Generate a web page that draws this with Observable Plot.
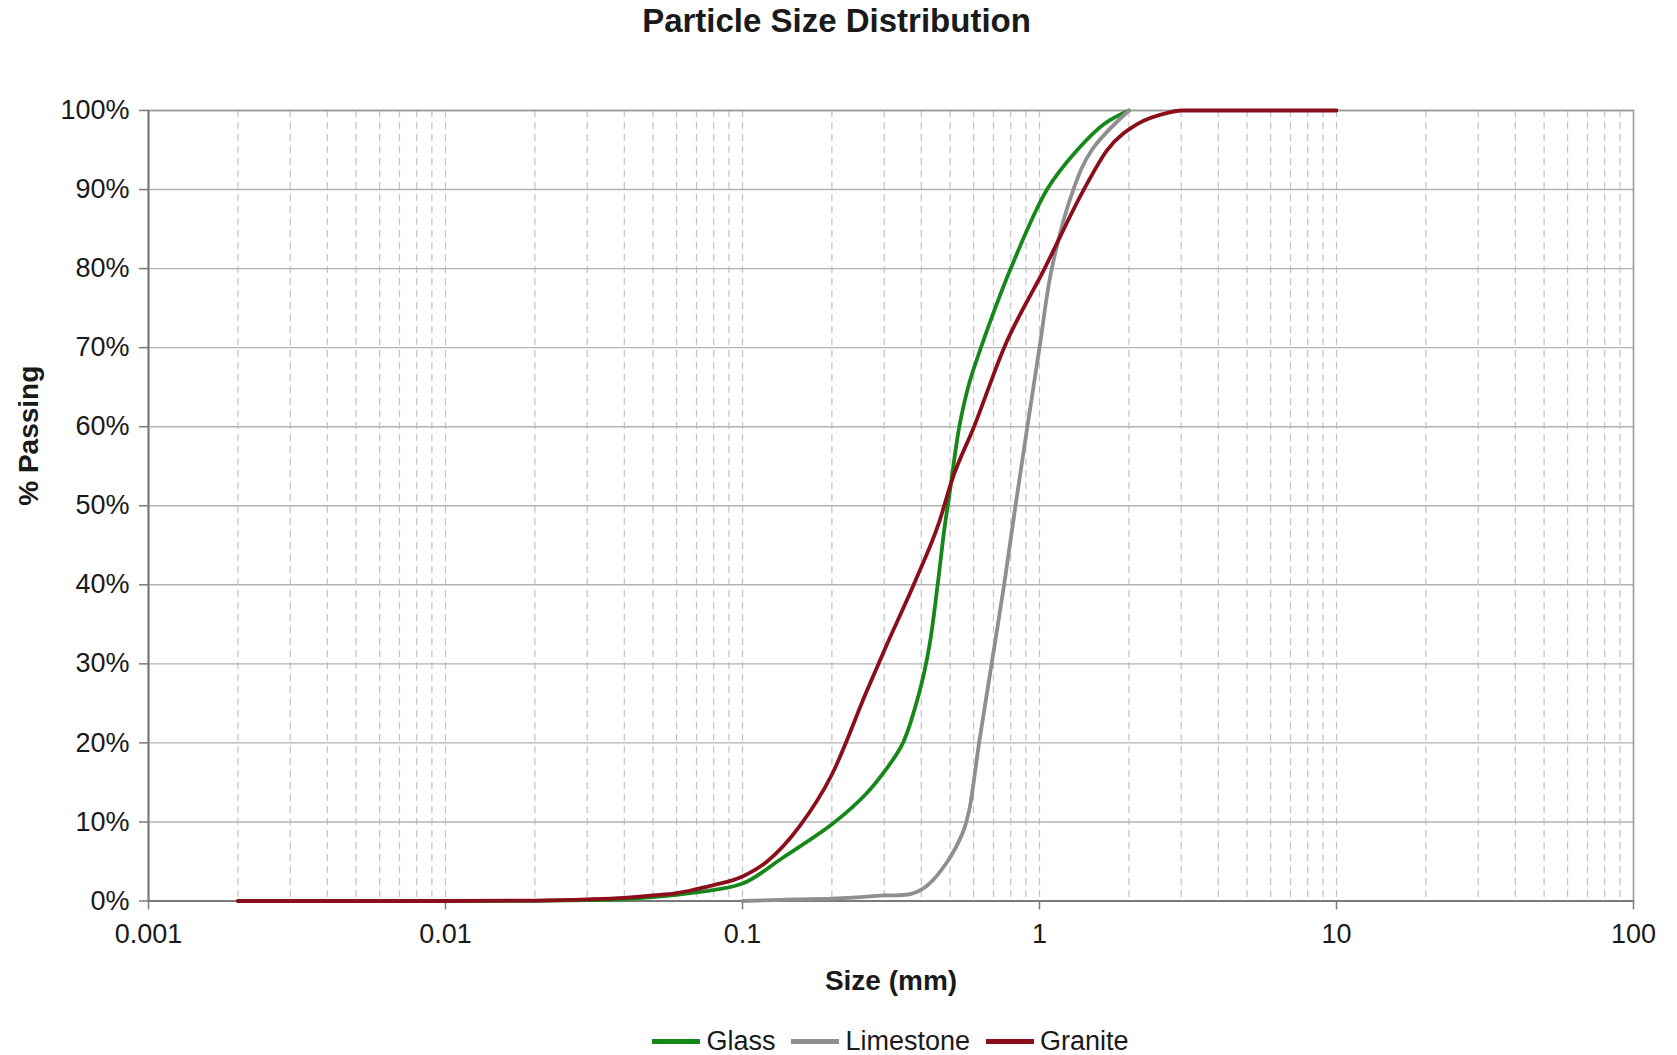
<!DOCTYPE html>
<html>
<head>
<meta charset="utf-8">
<script src="https://cdn.jsdelivr.net/npm/d3@7"></script>
<script src="https://cdn.jsdelivr.net/npm/@observablehq/plot@0.6"></script>
<style>
  html, body { margin: 0; padding: 0; background: #fff; overflow: hidden; }
  body { width: 1677px; height: 1055px; font-family: "Liberation Sans", Arial, sans-serif; color: #1a1a1a; }
  #title { height: 50px; line-height: 42px; text-align: center; font-size: 33px; font-weight: bold; padding-right: 4px; }
  #legend { height: 62px; display: flex; align-items: center; justify-content: center; padding-left: 148px; padding-right: 44px; font-size: 27px; }
  .item { display: flex; align-items: center; margin: 0 8px; }
  .sw { width: 48px; height: 5px; margin-right: 6px; }
  svg { display: block; }
</style>
</head>
<body>
<div id="title">Particle Size Distribution</div>
<div id="chart"></div>
<div id="legend"></div>
<script>
// ---- data (size in mm, % passing) ----
const seriesNames = ["Glass", "Limestone", "Granite"];
const seriesColors = ["#16881a", "#8f8f8f", "#8a0f1a"];

const glassSize = [0.002, 0.01, 0.02, 0.03, 0.04, 0.05, 0.07, 0.1, 0.137, 0.2, 0.26, 0.305, 0.347, 0.394, 0.426, 0.454, 0.478, 0.5, 0.537, 0.58, 0.635, 0.8, 1.06, 1.34, 1.65, 2];
const glassPct  = [0, 0, 0.02, 0.1, 0.25, 0.5, 1.1, 2.2, 5.5, 9.7, 13.5, 16.7, 20, 26.4, 32.3, 40, 47, 52, 60, 65.5, 70, 80, 90, 95, 98.3, 100];

const limestoneSize = [0.1, 0.15, 0.2, 0.25, 0.3, 0.37, 0.42, 0.49, 0.551, 0.58, 0.6, 0.626, 0.69, 0.76, 0.83, 0.91, 1.0, 1.1, 1.3, 1.5, 2];
const limestonePct  = [0, 0.2, 0.3, 0.5, 0.7, 0.9, 2, 5, 8.6, 11.5, 15, 20, 30, 40, 50, 60, 70, 80, 90, 95, 100];

const graniteSize = [0.002, 0.01, 0.02, 0.03, 0.04, 0.05, 0.06, 0.07, 0.08, 0.1, 0.121, 0.156, 0.2, 0.261, 0.305, 0.384, 0.46, 0.509, 0.602, 0.76, 1.04, 1.41, 1.69, 2.14, 2.7, 3, 10];
const granitePct  = [0, 0, 0.05, 0.2, 0.4, 0.7, 1.0, 1.5, 2.0, 3.1, 5, 9.5, 16, 26.4, 32.3, 40.7, 48, 53.4, 60, 70, 80, 90, 95, 98.3, 99.7, 100, 100];

const xTicks = [0.001, 0.01, 0.1, 1, 10, 100];
const xTickLabels = ["0.001", "0.01", "0.1", "1", "10", "100"];
const yTicks = [0, 10, 20, 30, 40, 50, 60, 70, 80, 90, 100];

// ---- build tables ----
const sizes = [glassSize, limestoneSize, graniteSize];
const pcts = [glassPct, limestonePct, granitePct];
const rows = [];
seriesNames.forEach((name, i) => {
  sizes[i].forEach((s, j) => rows.push({series: name, size: s, pct: pcts[i][j]}));
});
const minorGrid = [];
for (let k = -3; k <= 1; k++) for (let n = 1; n <= 9; n++) minorGrid.push(+(n * Math.pow(10, k)).toPrecision(3));

const lineOpts = {x: "size", y: "pct", stroke: "series", strokeWidth: 3.8, curve: "catmull-rom", strokeLinejoin: "round", strokeLinecap: "round"};

const chart = Plot.plot({
  width: 1677,
  height: 960,
  marginLeft: 148,
  marginRight: 44,
  marginTop: 60,
  marginBottom: 109.5,
  style: {fontFamily: "'Liberation Sans', Arial, sans-serif", background: "white", color: "#1a1a1a"},
  x: {type: "log", domain: [0.001, 100]},
  y: {domain: [0, 100]},
  color: {domain: seriesNames, range: seriesColors},
  marks: [
    Plot.ruleX(minorGrid, {stroke: "#c2c2c2", strokeWidth: 1.2, strokeDasharray: "7,5"}),
    Plot.ruleY(yTicks, {stroke: "#b3b3b3", strokeWidth: 1.4}),
    Plot.frame({stroke: "#9a9a9a", strokeWidth: 1.6}),
    Plot.ruleX([0.001], {stroke: "#7a7a7a", strokeWidth: 2}),
    Plot.ruleY([0], {stroke: "#7a7a7a", strokeWidth: 2}),
    Plot.axisX({ticks: xTicks, tickFormat: d => xTickLabels[xTicks.indexOf(d)], tickSize: 9, tickPadding: 14, fontSize: 27, label: null, stroke: "#7a7a7a", strokeWidth: 1.5}),
    Plot.axisY({ticks: yTicks, tickFormat: d => d + "%", tickSize: 9, tickPadding: 10, fontSize: 27, label: null, stroke: "#7a7a7a", strokeWidth: 1.5}),
    Plot.line(rows.filter(d => d.series === "Glass"), lineOpts),
    Plot.line(rows.filter(d => d.series === "Limestone"), lineOpts),
    Plot.line(rows.filter(d => d.series === "Granite"), {...lineOpts, curve: "monotone-x"}),
    Plot.text(["Size (mm)"], {frameAnchor: "bottom", dy: 88.5, fontSize: 28, fontWeight: "bold", fill: "#1a1a1a"}),
    Plot.text(["% Passing"], {frameAnchor: "left", dx: -119, rotate: -90, fontSize: 28, fontWeight: "bold", fill: "#1a1a1a"})
  ]
});
document.getElementById("chart").appendChild(chart);

const legend = document.getElementById("legend");
seriesNames.forEach((name, i) => {
  const item = document.createElement("div");
  item.className = "item";
  const sw = document.createElement("div");
  sw.className = "sw";
  sw.style.background = seriesColors[i];
  const t = document.createElement("span");
  t.textContent = name;
  item.appendChild(sw);
  item.appendChild(t);
  legend.appendChild(item);
});
</script>
</body>
</html>
